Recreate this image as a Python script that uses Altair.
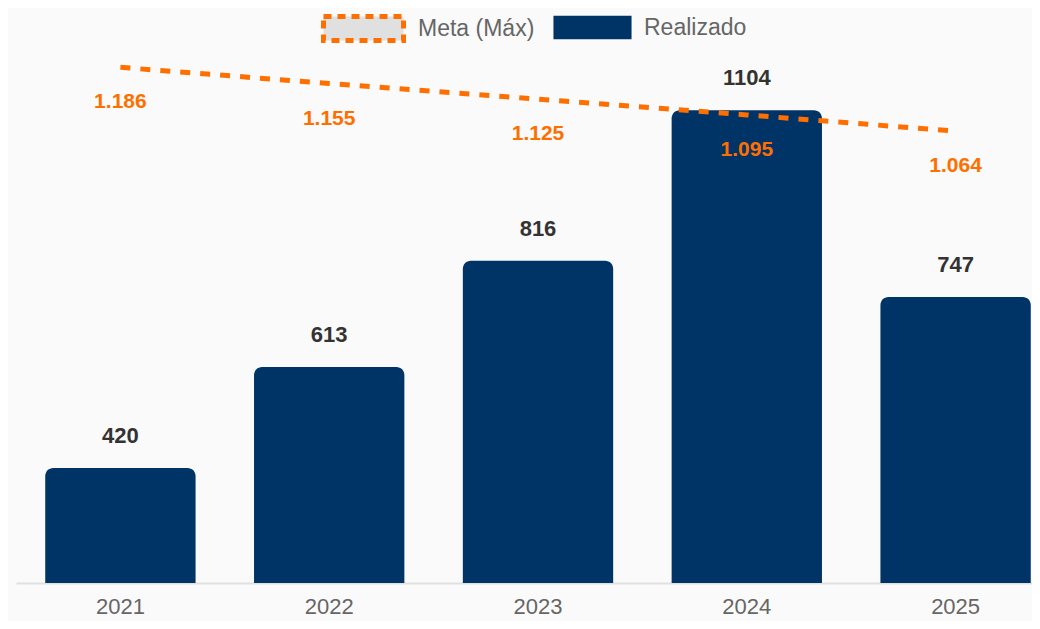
import altair as alt
import pandas as pd

years = ["2021", "2022", "2023", "2024", "2025"]
realizado = [420, 613, 816, 1104, 747]
meta = [1186, 1155, 1125, 1095, 1064]
serie_meta = "Meta (Máx)"
serie_real = "Realizado"

Y_MIN = 200
Y_MAX = 1200
NAVY = "#003366"
ORANGE = "#FF6F00"
FONT = "Liberation Sans"

df = pd.DataFrame({
    "ano": years,
    "realizado": realizado,
    "meta": meta,
    "serie_r": [serie_real] * len(years),
    "serie_m": [serie_meta] * len(years),
})

yscale = alt.Scale(domain=[Y_MIN, Y_MAX], zero=False, nice=False)
x_enc = alt.X(
    "ano:N",
    sort=years,
    scale=alt.Scale(range=[0, 1044], paddingInner=0.28, paddingOuter=0.14),
    axis=alt.Axis(
        title=None, labelAngle=0, ticks=False, grid=False,
        domainColor="#e0e0e0", domainWidth=2,
        labelFont=FONT, labelFontSize=22, labelColor="#666666", labelPadding=13,
    ),
)

RECT = "M-1,-0.3H1V0.3H-1Z"

base = alt.Chart(df)

bars = base.mark_bar(cornerRadiusTopLeft=8, cornerRadiusTopRight=8).encode(
    x=x_enc,
    y=alt.Y("realizado:Q", scale=yscale, axis=None),
    y2=alt.datum(Y_MIN),
    fill=alt.Fill(
        "serie_r:N",
        scale=alt.Scale(domain=[serie_real], range=[NAVY]),
        legend=alt.Legend(
            title=None, orient="none", legendX=537, legendY=-72,
            symbolType=RECT, symbolSize=6100, symbolStrokeWidth=0,
            labelFont=FONT, labelFontSize=23, labelColor="#666666",
            labelOffset=12, padding=0,
        ),
    ),
)

bar_labels = base.mark_text(
    dy=-32, font=FONT, fontSize=22, fontWeight="bold", color="#333333"
).encode(
    x=alt.X("ano:N", sort=years),
    y=alt.Y("realizado:Q", scale=yscale),
    text=alt.Text("realizado:Q", format="d"),
)

line = base.mark_line(strokeDash=[10, 10], strokeWidth=5, strokeCap="butt").encode(
    x=alt.X("ano:N", sort=years),
    y=alt.Y("meta:Q", scale=yscale),
    stroke=alt.Stroke(
        "serie_m:N",
        scale=alt.Scale(domain=[serie_meta], range=[ORANGE]),
        legend=alt.Legend(
            title=None, orient="none", legendX=305, legendY=-74,
            symbolType=RECT, symbolSize=6400, symbolStrokeWidth=5,
            symbolDash=[8, 6], symbolFillColor="#e0e0e0",
            labelFont=FONT, labelFontSize=23, labelColor="#666666",
            labelOffset=12, padding=0,
        ),
    ),
)

meta_labels = base.transform_calculate(
    meta_txt="replace(format(datum.meta, ','), ',', '.')"
).mark_text(
    dy=35, font=FONT, fontSize=21, fontWeight="bold", color=ORANGE
).encode(
    x=alt.X("ano:N", sort=years),
    y=alt.Y("meta:Q", scale=yscale),
    text="meta_txt:N",
)

chart = alt.layer(bars, bar_labels, line, meta_labels).properties(
    width=1016,
    height=523,
    autosize=alt.AutoSizeParams(type="none"),
    padding={"left": 8, "top": 52, "right": 0, "bottom": 38},
    background="#fafafa",
).configure_view(stroke=None)

chart.save("out.html", embed_options={"renderer": "svg", "actions": False})
